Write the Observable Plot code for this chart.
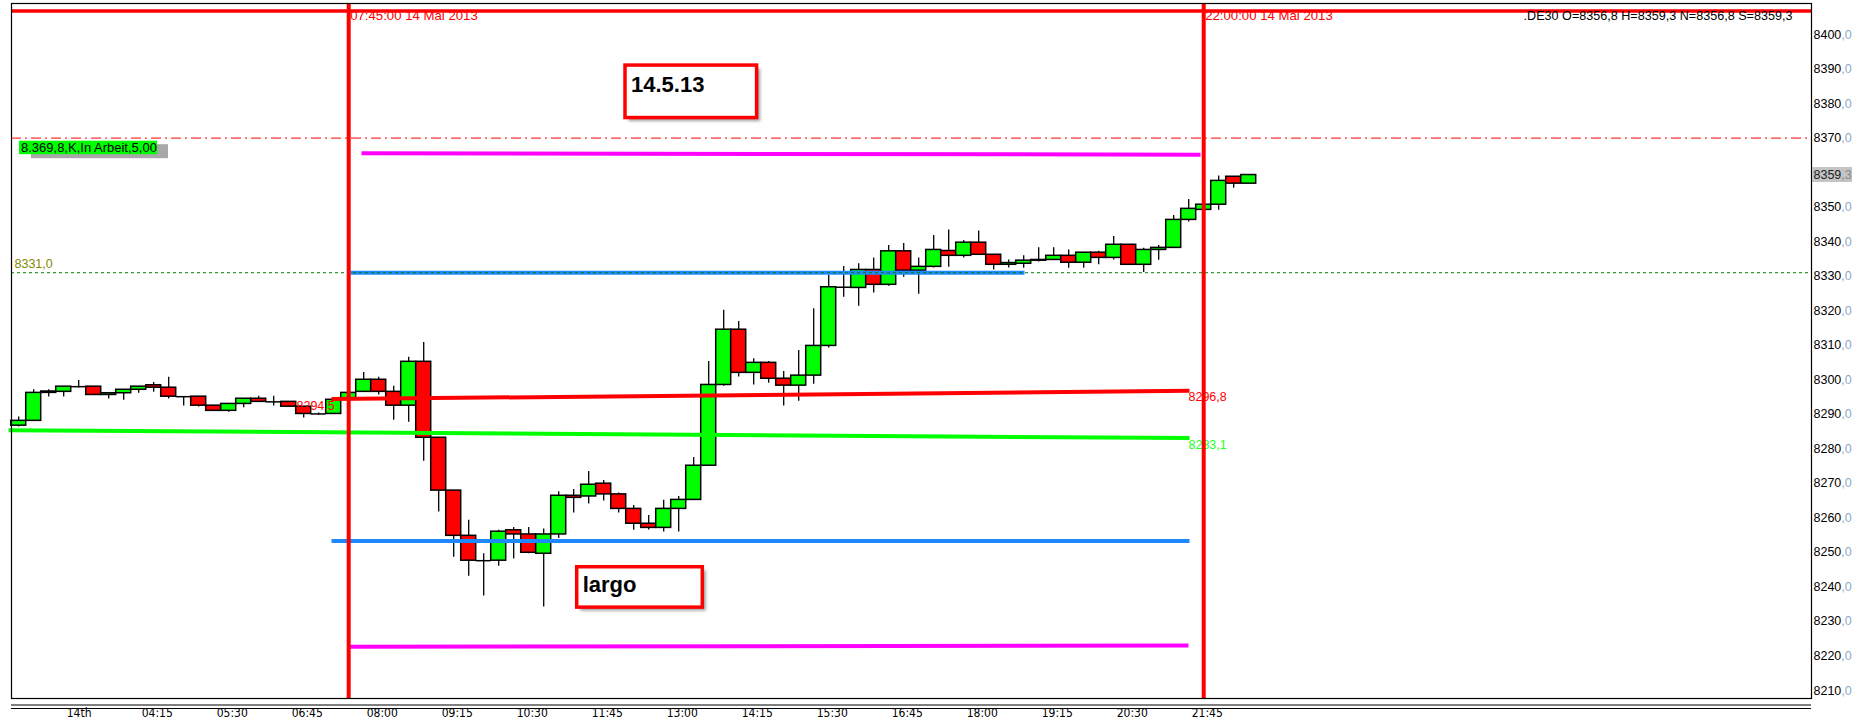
<!DOCTYPE html>
<html><head><meta charset="utf-8">
<script src="https://cdn.jsdelivr.net/npm/d3@7"></script>
<script src="https://cdn.jsdelivr.net/npm/@observablehq/plot@0.6"></script>
<style>
html,body{margin:0;padding:0;background:#fff;overflow:hidden}
#chart svg{display:block}
</style></head><body><div id="chart"></div>
<script>
// ---------- data ----------
const firstCandle = "02:15";
const barMinutes = 15;
const opens  = [8286.7,8288.1,8296.2,8296.5,8298.0,8298.0,8295.6,8296.1,8297.1,8298.4,8297.7,8295.1,8295.1,8292.5,8291.0,8293.0,8294.5,8293.6,8293.6,8292.2,8290.1,8290.1,8294.2,8296.5,8300.0,8296.5,8292.5,8305.2,8283.2,8267.9,8254.8,8247.6,8247.6,8256.4,8255.2,8249.6,8255.2,8266.4,8266.2,8269.9,8266.8,8262.6,8258.3,8257.1,8262.6,8265.2,8275.1,8298.5,8314.5,8302.0,8304.9,8300.3,8298.3,8301.2,8309.8,8326.8,8326.6,8331.8,8327.5,8337.2,8331.6,8332.7,8337.3,8335.9,8339.7,8336.2,8333.3,8333.6,8334.5,8334.7,8335.9,8333.9,8336.8,8335.3,8339.1,8333.3,8337.6,8338.2,8346.3,8349.2,8350.7,8358.8,8356.8];
const highs  = [8289.2,8297.1,8297.1,8298.0,8299.8,8298.0,8296.2,8297.1,8298.0,8299.2,8300.7,8295.1,8295.1,8292.5,8293.0,8294.5,8295.2,8295.2,8293.6,8292.2,8290.4,8294.2,8296.2,8302.1,8300.7,8298.1,8306.5,8310.8,8283.2,8267.9,8259.3,8249.6,8256.4,8257.2,8257.2,8256.8,8267.6,8268.2,8273.4,8270.8,8267.2,8263.6,8260.7,8265.1,8266.2,8277.5,8305.3,8320.1,8316.9,8306.1,8305.3,8302.4,8308.5,8320.6,8330.2,8332.8,8333.6,8335.3,8338.9,8339.5,8335.3,8341.8,8343.4,8340.3,8343.1,8336.2,8334.7,8335.9,8338.2,8338.2,8337.6,8336.8,8337.2,8341.5,8339.1,8338.1,8338.9,8347.6,8352.2,8350.7,8359.0,8358.8,8359.3];
const lows   = [8286.3,8288.0,8295.0,8295.0,8297.6,8295.6,8294.4,8294.1,8296.1,8296.4,8294.4,8292.4,8292.1,8291.0,8290.6,8291.9,8293.6,8292.4,8292.2,8288.9,8289.8,8290.1,8294.2,8296.4,8295.6,8288.3,8287.7,8276.4,8261.7,8248.6,8243.1,8237.4,8246.0,8248.1,8249.6,8234.2,8254.0,8261.4,8264.0,8264.9,8261.4,8256.4,8256.5,8255.9,8255.9,8265.2,8275.1,8298.1,8300.8,8298.5,8299.0,8292.4,8293.8,8298.7,8309.2,8323.9,8321.3,8325.1,8327.1,8329.7,8324.8,8332.4,8332.6,8335.3,8336.2,8331.8,8332.4,8332.3,8334.1,8334.7,8332.3,8332.3,8333.3,8334.7,8333.3,8331.1,8334.6,8338.2,8345.7,8349.2,8349.1,8355.5,8356.8];
const closes = [8288.1,8296.2,8296.6,8298.0,8298.0,8295.6,8296.1,8297.1,8298.0,8297.7,8295.1,8295.1,8292.5,8291.0,8293.0,8294.5,8293.6,8293.6,8292.2,8290.1,8290.1,8294.2,8296.2,8300.0,8296.5,8292.5,8305.2,8283.2,8267.9,8254.8,8247.6,8247.6,8256.0,8255.2,8249.9,8255.2,8266.4,8265.8,8269.6,8266.8,8262.6,8258.3,8257.1,8262.6,8265.2,8275.1,8298.5,8314.5,8302.0,8304.9,8300.3,8298.3,8301.2,8309.8,8326.8,8326.8,8331.8,8327.5,8337.2,8331.6,8332.7,8337.6,8335.9,8339.7,8336.2,8333.3,8333.8,8334.5,8334.7,8335.9,8333.9,8336.8,8335.3,8339.1,8333.3,8337.6,8338.2,8346.3,8349.5,8350.7,8357.6,8356.8,8359.3];

const xTickTimes  = ["03:00","04:15","05:30","06:45","08:00","09:15","10:30","11:45","13:00","14:15","15:30","16:45","18:00","19:15","20:30","21:45"];
const xTickLabels = ["14th","04:15","05:30","06:45","08:00","09:15","10:30","11:45","13:00","14:15","15:30","16:45","18:00","19:15","20:30","21:45"];
const yTicks = [8400,8390,8380,8370,8350,8340,8330,8320,8310,8300,8290,8280,8270,8260,8250,8240,8230,8220,8210];
const currentPrice = 8359.3;
const quoteText = ".DE30 O=8356,8 H=8359,3 N=8356,8 S=8359,3";

const vLineTimes  = ["07:45","22:00"];
const vLineLabels = ["07:45:00 14 Mai 2013","22:00:00 14 Mai 2013"];

const topLineLevel = 8406.8;
const orderLevel = 8370;
const orderLabel = "8.369,8,K,In Arbeit,5,00";
const dottedLevel = 8331;

const segNames  = ["magentaTop","magentaBottom","blueTop","blueBottom","redLevel","greenLevel"];
const segStart  = ["07:57.8","07:43.8","07:46.8","07:27.8","07:27.8","02:04.8"];
const segEnd    = ["21:56.8","21:44.8","19:00.8","21:45.8","21:45.8","21:45.8"];
const segFrom   = [8365.6, 8222.7, 8331.0, 8253.3, 8294.4, 8285.4];
const segTo     = [8365.2, 8223.0, 8331.0, 8253.3, 8296.8, 8283.1];

const boxTexts  = ["14.5.13","largo"];
const boxStart  = ["12:21.8","11:33.5"];
const boxEnd    = ["14:33.4","13:39.1"];
const boxTop    = [8391.0, 8245.7];
const boxBottom = [8375.8, 8234.0];
const boxTextAt = [8385.5, 8240.5];

// ---------- styles ----------
const segColor = {magentaTop:"#ff00ff", magentaBottom:"#ff00ff", blueTop:"#1e88ff", blueBottom:"#1e88ff", redLevel:"#ff0000", greenLevel:"#00ff00"};
const FONT = "'Liberation Sans', Arial, sans-serif";
const NARROW = "'Liberation Sans Narrow', 'Arial Narrow', 'DejaVu Sans Condensed', sans-serif";

// ---------- helpers ----------
const toMin = s => { const [h, m] = s.split(":").map(Number); return h * 60 + m; };
const fmt = v => v.toFixed(1).replace(".", ",");
const t0 = toMin(firstCandle);
const candles = opens.map((o, i) => ({t: t0 + i * barMinutes, o, h: highs[i], l: lows[i], c: closes[i]}));
const segs = segNames.map((n, i) => ({n, x1: toMin(segStart[i]), x2: toMin(segEnd[i]), y1: segFrom[i], y2: segTo[i]}));
const boxes = boxTexts.map((text, i) => ({text, x1: toMin(boxStart[i]), x2: toMin(boxEnd[i]), y1: boxBottom[i], y2: boxTop[i], ty: boxTextAt[i]}));

// layout: 1 px per minute horizontally
const W = 1857, H = 726, mL = 11, mR = 46, mT = 3, mB = 28;
const xMin = t0 - (18.2 - mL);
const xMax = xMin + (W - mL - mR);
const pxPerPt = 656 / 190;
const yMax = 8400 + (34 - mT) / pxPerPt;
const yMin = 8400 - (H - mB - 34) / pxPerPt;

const half = barMinutes / 2;
const chart = Plot.plot({
  width: W, height: H,
  marginLeft: mL, marginRight: mR, marginTop: mT, marginBottom: mB,
  x: {domain: [xMin, xMax], axis: null},
  y: {domain: [yMin, yMax], axis: null},
  color: {type: "identity"},
  style: {background: "#fff", fontFamily: FONT},
  marks: [
    Plot.ruleY([orderLevel], {stroke: "#ff0000", strokeWidth: 1, strokeDasharray: "10,4,2,4"}),
    // candle wicks and bodies
    Plot.ruleX(candles, {x: "t", y1: "l", y2: "h", stroke: "#000", strokeWidth: 1.3}),
    Plot.rect(candles, {x1: d => d.t - half, x2: d => d.t + half, y1: "o", y2: "c",
      fill: d => d.c >= d.o ? "#00ff00" : "#ff0000", stroke: "#000", strokeWidth: 1.5}),
    Plot.ruleY(candles.filter(d => Math.abs(d.c - d.o) < 0.3), {x1: d => d.t - half, x2: d => d.t + half, y: "c", stroke: "#000", strokeWidth: 1.5}),
    // level label left
    Plot.text([segFrom[4]], {x: toMin(segStart[4]) - 35, y: d => d - 2.1, text: d => fmt(d + 0.1), fill: "#ff0000", fontSize: 12.5, textAnchor: "start"}),
    // drawn level segments
    Plot.link(segs, {x1: "x1", x2: "x2", y1: "y1", y2: "y2", stroke: d => segColor[d.n], strokeWidth: 4}),
    Plot.ruleY([dottedLevel], {stroke: "#008000", strokeWidth: 1, strokeDasharray: "3,3"}),
    Plot.text([dottedLevel], {frameAnchor: "left", y: d => d, dx: 3, dy: -8.5, text: d => fmt(d), fill: "#7f8a00", fontSize: 12.5, textAnchor: "start"}),
    Plot.text([segTo[4]], {x: toMin(segEnd[4]), y: d => d, dy: 6.5, text: d => fmt(d), fill: "#ff0000", fontSize: 12.5, textAnchor: "start", dx: -1}),
    Plot.text([segTo[5]], {x: toMin(segEnd[5]), y: d => d, dy: 7, text: d => fmt(d), fill: "#22ff22", fontSize: 12.5, textAnchor: "start", dx: -1}),
    // order label (green box with shadow)
    Plot.rect([orderLevel], {x1: xMin + 14, x2: xMin + 151, y1: d => d - 0.9 - 14 / pxPerPt, y2: d => d - 0.9, fill: "#a8a8a8", dx: 6, dy: 3.5}),
    Plot.rect([orderLevel], {x1: xMin + 8, x2: xMin + 146, y1: d => d - 0.9 - 13.5 / pxPerPt, y2: d => d - 0.9, fill: "#00ff00"}),
    Plot.text([orderLevel], {x: xMin + 9.5, y: d => d - 0.9 - 6.8 / pxPerPt, text: () => orderLabel, fill: "#000", fontSize: 13, textAnchor: "start"}),
    // annotation boxes
    Plot.rect(boxes, {x1: "x1", x2: "x2", y1: "y1", y2: "y2", fill: "#555", fillOpacity: 0.55, dx: 3.5, dy: 3.5, imageFilter: "blur(1.5px)"}),
    Plot.rect(boxes, {x1: "x1", x2: "x2", y1: "y1", y2: "y2", fill: "#fff", stroke: "#ff0000", strokeWidth: 3.5}),
    Plot.text(boxes, {x: d => d.x1 + 5.5, y: "ty", text: "text", fill: "#000", fontSize: 22, fontWeight: "bold", textAnchor: "start"}),
    // top line + labels
    Plot.ruleY([topLineLevel], {stroke: "#ff0000", strokeWidth: 3.7}),
    Plot.text(vLineTimes, {x: d => toMin(d), frameAnchor: "top", dy: 7.5, dx: 1.5, text: (d, i) => vLineLabels[i], fill: "#ff0000", fontSize: 13.2, textAnchor: "start"}),
    Plot.text([quoteText], {frameAnchor: "top-right", dx: -19, dy: 8, text: d => d, fill: "#000", fontSize: 12.6, textAnchor: "end"}),
    // vertical red lines
    Plot.ruleX(vLineTimes, {x: d => toMin(d), stroke: "#ff0000", strokeWidth: 4}),
    // frame
    Plot.frame({stroke: "#000", strokeWidth: 1.2}),
    // right price axis
    Plot.text(yTicks, {frameAnchor: "right", y: d => d, dx: 2, text: d => String(d), fill: "#000", fontSize: 12.5, textAnchor: "start"}),
    Plot.text(yTicks, {frameAnchor: "right", y: d => d, dx: 29.8, text: () => ",0", fill: "#8ea8c8", fontSize: 12.5, textAnchor: "start"}),
    Plot.rect([currentPrice], {x1: xMax + 1, x2: xMax + 41, y1: d => d - 7.5 / pxPerPt, y2: d => d + 7.5 / pxPerPt, fill: "#c4c4c4"}),
    Plot.text([currentPrice], {frameAnchor: "right", y: d => d, dx: 2, text: d => String(Math.floor(d)), fill: "#222", fontSize: 12.5, textAnchor: "start"}),
    Plot.text([currentPrice], {frameAnchor: "right", y: d => d, dx: 29.8, text: d => "," + fmt(d).split(",")[1], fill: "#8a8a8a", fontSize: 12.5, textAnchor: "start"}),
    // bottom time axis
    Plot.ruleY([yMin - 6.5 / pxPerPt, yMin - 10 / pxPerPt], {stroke: "#000", strokeWidth: 1}),
    Plot.text(xTickTimes, {x: d => toMin(d), frameAnchor: "bottom", dy: 18, dx: 3, text: (d, i) => xTickLabels[i], fill: "#000", fontSize: 12, fontFamily: NARROW, textAnchor: "start"})
  ]
});
document.getElementById("chart").appendChild(chart);
</script>
</body></html>
